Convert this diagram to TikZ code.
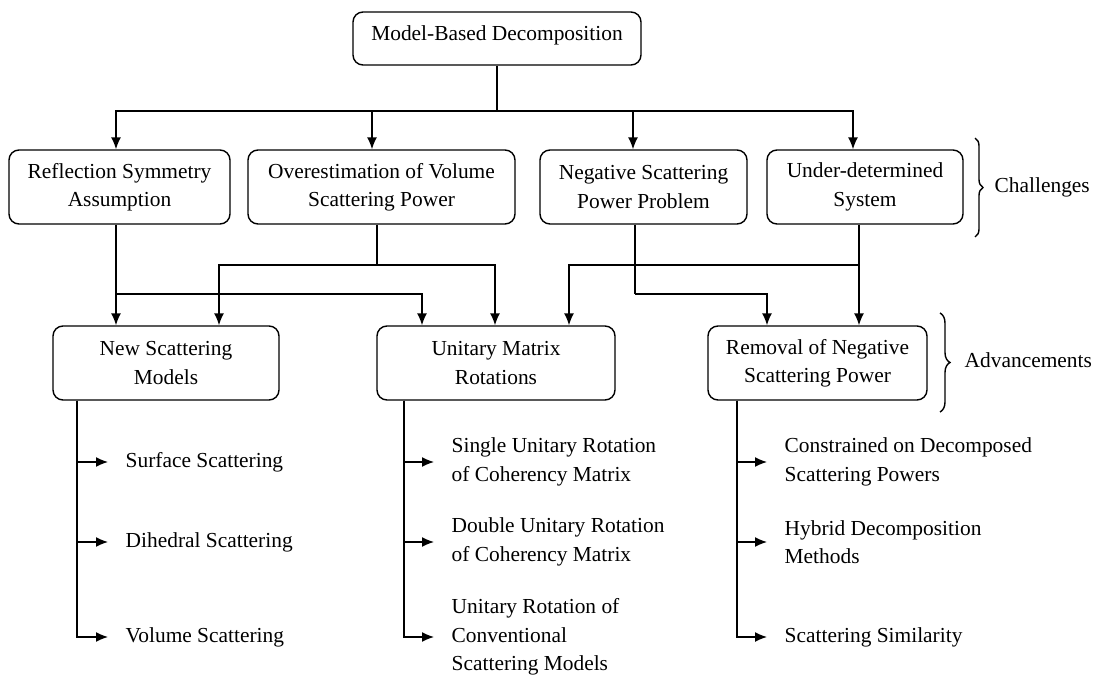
\documentclass[tikz,border=0pt]{standalone}
\usepackage{fontspec}
\setmainfont{Liberation Serif}
\usetikzlibrary{arrows.meta,decorations.pathreplacing}

\begin{document}
\begin{tikzpicture}[x=0.5pt, y=-0.5pt, line width=0.7pt,
        font=\fontsize{10.7}{14.2}\selectfont,
        box/.style = {draw, rounded corners=5pt, align=center, minimum height=37pt, inner sep=2pt},
        item/.style = {anchor=west, align=left, inner xsep=8.5pt, inner ysep=0pt},
        arr/.style = {-{Latex[length=6pt,width=5pt]}},
        curly/.style = {decorate, decoration={brace, amplitude=#1}},
        lbl/.style = {anchor=west, inner sep=0pt}]
        \useasboundingbox (0,0) rectangle (1094,675);

        % top
        \node[box, minimum width=144pt, minimum height=26.5pt, text height=7.5pt, text depth=6pt] (root) at (497,38.5) {Model-Based Decomposition};

        % challenges
        \node[box, minimum width=110.5pt] (refl) at (119.5,187) {Reflection Symmetry\\Assumption};
        \node[box, minimum width=133.5pt] (over) at (381.5,187) {Overestimation of Volume\\Scattering Power};
        \node[box, minimum width=103.5pt] (neg) at (643.5,187) {Negative Scattering\\Power Problem};
        \node[box, minimum width=98pt] (under) at (865,187) {Under-determined\\System};

        % advancements
        \node[box, minimum width=113pt] (new) at (166,363) {New Scattering\\Models};
        \node[box, minimum width=119pt] (unit) at (496,363) {Unitary Matrix\\Rotations};
        \node[box, minimum width=109.5pt] (remov) at (817.5,363) {Removal of Negative\\Scattering Power};

        % sub items
        \node[item] (s1) at (108,462) {Surface Scattering};
        \node[item] (s2) at (108,542) {Dihedral Scattering};
        \node[item] (s3) at (108,637) {Volume Scattering};
        \node[item] (u1) at (434,462) {Single Unitary Rotation\\of Coherency Matrix};
        \node[item] (u2) at (434,542) {Double Unitary Rotation\\of Coherency Matrix};
        \node[item] (u3) at (434,637) {Unitary Rotation of\\Conventional\\Scattering Models};
        \node[item] (r1) at (767,462) {Constrained on Decomposed\\Scattering Powers};
        \node[item] (r2) at (767,542) {Hybrid Decomposition\\Methods};
        \node[item] (r3) at (767,637) {Scattering Similarity};

        % braces
        \draw[curly=4pt] (975,138) -- (975,237);
        \node[lbl] (chal) at (994,187) {Challenges};
        \draw[curly=5pt] (940,313) -- (940,412);
        \node[lbl] (adv) at (964,360) {Advancements};

        % root to challenges
        \coordinate (bus) at (497,111);
        \draw (root) -- (bus);
        \foreach \n/\x in {refl/116, over/372, neg/633, under/853}
            \draw[arr] (bus) -| (\n.north -| \x,0);

        % challenges to advancements
        \coordinate (j1) at (116,294);
        \coordinate (j2) at (377,265);
        \coordinate (j3) at (635,294);
        \coordinate (j4) at (859,265);
        \draw[arr] (refl.south -| 116,0) -- (new.north -| 116,0);
        \draw[arr] (j1) -| (unit.north -| 422,0);
        \draw (over.south -| 377,0) -- (j2);
        \draw[arr] (j2) -| (new.north -| 219,0);
        \draw[arr] (j2) -| (unit.north -| 495,0);
        \draw (neg.south -| 635,0) -- (j3);
        \draw[arr] (j3) -| (remov.north -| 767,0);
        \draw[arr] (under.south -| 859,0) -- (remov.north -| 859,0);
        \draw[arr] (j4) -| (unit.north -| 569,0);

        % advancements to items
        \foreach \i in {s1,s2,s3}
            \draw[arr] (new.south -| 77,0) |- (\i.west);
        \foreach \i in {u1,u2,u3}
            \draw[arr] (unit.south -| 404,0) |- (\i.west);
        \foreach \i in {r1,r2,r3}
            \draw[arr] (remov.south -| 737,0) |- (\i.west);

    \end{tikzpicture}
\end{document}
